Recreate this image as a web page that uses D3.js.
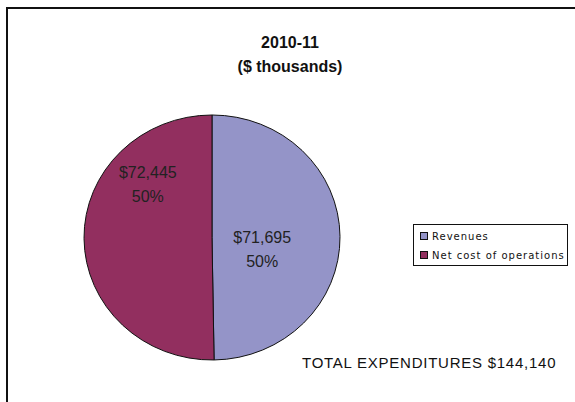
<!DOCTYPE html>
<html>
<head>
<meta charset="utf-8">
<script src="https://cdn.jsdelivr.net/npm/d3@7"></script>
<style>
  html, body { margin: 0; padding: 0; background: #fff; }
  svg { display: block; }
</style>
</head>
<body>
<svg id="chart" width="575" height="402"></svg>
<script>
// Budget split for the year, in $ thousands
const categories = ["Revenues", "Net cost of operations"];
const values = [71695, 72445];
const colors = ["#9494C8", "#922F5F"];
const titleLines = ["2010-11", "($ thousands)"];
const totalLabel = "TOTAL EXPENDITURES";

const svg = d3.select("#chart");

// outer frame (only the top and left edges fall inside the page)
svg.append("path")
  .attr("d", "M7,402 V8 H575")
  .attr("fill", "none")
  .attr("stroke", "#111")
  .attr("stroke-width", 2);

// title
svg.append("g").selectAll("text")
  .data(titleLines)
  .join("text")
  .attr("x", 290)
  .attr("y", (d, i) => 48 + i * 24)
  .attr("text-anchor", "middle")
  .attr("font-family", "Liberation Sans, Arial, sans-serif")
  .attr("font-weight", "bold")
  .attr("font-size", 16)
  .attr("fill", "#111")
  .text(d => d);

// pie
const cx = 212, cy = 237.5, rx = 128, ry = 122.5;
const total = d3.sum(values);
const pie = d3.pie().sort(null).value(d => d.value);
const arcs = pie(categories.map((c, i) => ({ name: c, value: values[i], color: colors[i] })));
const arc = d3.arc().innerRadius(0).outerRadius(rx);

const g = svg.append("g")
  .attr("transform", `translate(${cx},${cy}) scale(1,${ry / rx})`);

g.selectAll("path")
  .data(arcs)
  .join("path")
  .attr("d", arc)
  .attr("fill", d => d.data.color)
  .attr("stroke", "#111")
  .attr("stroke-width", 1)
  .attr("vector-effect", "non-scaling-stroke");

// data labels: value and share, nudged from the slice centroid
const labelArc = d3.arc().innerRadius(0).outerRadius(rx * 0.8);
const labelNudge = [[-1, 12], [-13, -54]];
const fmt = d3.format(",");
const pct = d3.format(".0%");

const labels = svg.append("g").selectAll("g")
  .data(arcs)
  .join("g")
  .attr("transform", (d, i) => {
    const [x, y] = labelArc.centroid(d);
    return `translate(${cx + x + labelNudge[i][0]},${cy + y * ry / rx + labelNudge[i][1]})`;
  });

labels.selectAll("text")
  .data(d => ["$" + fmt(d.data.value), pct(d.data.value / total)])
  .join("text")
  .attr("x", 0)
  .attr("y", (d, i) => -6 + i * 24)
  .attr("text-anchor", "middle")
  .attr("font-family", "Liberation Sans, Arial, sans-serif")
  .attr("font-size", 16)
  .attr("fill", "#222")
  .text(d => d);

// total note
svg.append("text")
  .attr("x", 302)
  .attr("y", 368)
  .attr("font-family", "Liberation Sans, Arial, sans-serif")
  .attr("font-size", 15)
  .attr("letter-spacing", 0.75)
  .attr("fill", "#111")
  .text(`${totalLabel} $${fmt(total)}`);

// legend
const lg = svg.append("g").attr("transform", "translate(413,224)");
lg.append("rect")
  .attr("x", 0.5).attr("y", 0.5)
  .attr("width", 154).attr("height", 41)
  .attr("fill", "#fff")
  .attr("stroke", "#111")
  .attr("stroke-width", 1);

const items = lg.selectAll("g.item")
  .data(categories)
  .join("g")
  .attr("class", "item")
  .attr("transform", (d, i) => `translate(7,${12 + i * 19})`);

items.append("rect")
  .attr("x", 0.5).attr("y", -3.5)
  .attr("width", 7).attr("height", 7)
  .attr("fill", (d, i) => colors[i])
  .attr("stroke", "#111")
  .attr("stroke-width", 1);

items.append("text")
  .attr("x", 12)
  .attr("y", 4)
  .attr("font-family", "DejaVu Sans, Verdana, sans-serif")
  .attr("font-size", 10)
  .attr("letter-spacing", 1)
  .attr("fill", "#111")
  .text(d => d);
</script>
</body>
</html>
